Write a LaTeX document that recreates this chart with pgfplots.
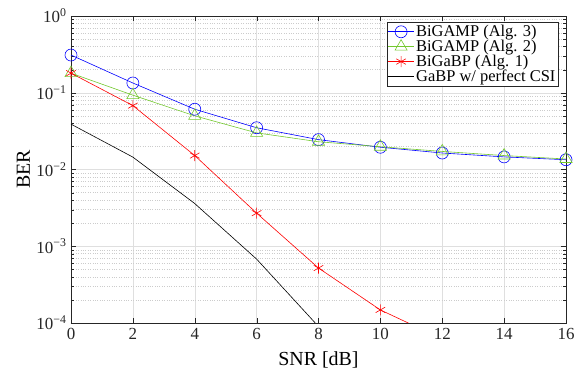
\documentclass[border=0pt]{standalone}
\usepackage{pgfplots}
\pgfplotsset{compat=1.18}
\usepackage{fontspec}
\setmainfont{Liberation Serif}
\definecolor{mgreen}{RGB}{115,200,45}
\definecolor{axgray}{RGB}{38,38,38}
\begin{document}
\begin{tikzpicture}
\begin{axis}[
  name=ax,
  scale only axis,
  width=495bp, height=307bp,
  xmin=0, xmax=16,
  ymode=log, ymin=1e-4, ymax=1,
  xtick={0,2,...,16},
  ytick={1e-4,1e-3,1e-2,1e-1,1},
  yticklabels={10\textsuperscript{−4},10\textsuperscript{−3},10\textsuperscript{−2},10\textsuperscript{−1},10\textsuperscript{0}},
  /pgf/number format/assume math mode=true,
  tick label style={font=\fontsize{17}{20}\selectfont, text=axgray},
  xticklabel style={yshift=-2bp},
  yticklabel style={xshift=-1bp},
  xlabel={SNR [dB]}, ylabel={BER},
  label style={font=\fontsize{20}{23}\selectfont},
  xlabel style={at={(axis description cs:0.5,0)}, anchor=center, yshift=-37bp},
  ylabel style={at={(axis description cs:0,0.5)}, anchor=center, rotate=0, yshift=47.5bp},
  axis line style={axgray},
  tick style={axgray},
  tick align=inside,
  major tick length=5bp,
  minor tick length=3bp,
  xtick pos=both, ytick pos=both,
  grid=both,
  major grid style={gray!25, line width=0.5pt},
  minor grid style={gray!40, dotted, line width=0.5pt},
  minor x tick num=0,
  legend style={at={(0.985,0.98)}, anchor=north east, draw=axgray, fill=white,
    font=\fontsize{16.5}{18}\selectfont, inner sep=1pt, row sep=-2pt,
    legend cell align=left},
  legend image code/.code={
    \draw[mark repeat=2,mark phase=2,#1]
      plot coordinates {(0cm,0cm) (0.45cm,0cm) (0.9cm,0cm)};},
]
\addplot[blue, line width=0.6pt, mark=o, mark size=6bp, mark options={solid}]
  coordinates {(0,0.31)(2,0.134)(4,0.061)(6,0.035)(8,0.0245)(10,0.0195)(12,0.0164)(14,0.0146)(16,0.0134)};
\addlegendentry{BiGAMP (Alg. 3)}
\addplot[mgreen, line width=0.6pt, mark=triangle, mark size=7bp, mark options={solid}]
  coordinates {(0,0.18)(2,0.093)(4,0.05)(6,0.030)(8,0.023)(10,0.0198)(12,0.0172)(14,0.0152)(16,0.0137)};
\addlegendentry{BiGAMP (Alg. 2)}
\addplot[red, line width=0.6pt, mark=asterisk, mark size=5.5bp, mark options={solid}]
  coordinates {(0,0.18)(2,0.068)(4,0.0152)(6,0.0027)(8,0.00052)(10,0.000148)(12,0.000062)};
\addlegendentry{BiGaBP (Alg. 1)}
\addplot[black, line width=0.6pt]
  coordinates {(0,0.039)(2,0.0145)(4,0.0036)(6,0.00068)(8,0.00009)};
\addlegendentry{GaBP w/ perfect CSI}
\end{axis}
\path ([shift={(-71bp,-49bp)}]ax.south west) rectangle ([shift={(13bp,16bp)}]ax.north east);
\end{tikzpicture}
\end{document}
